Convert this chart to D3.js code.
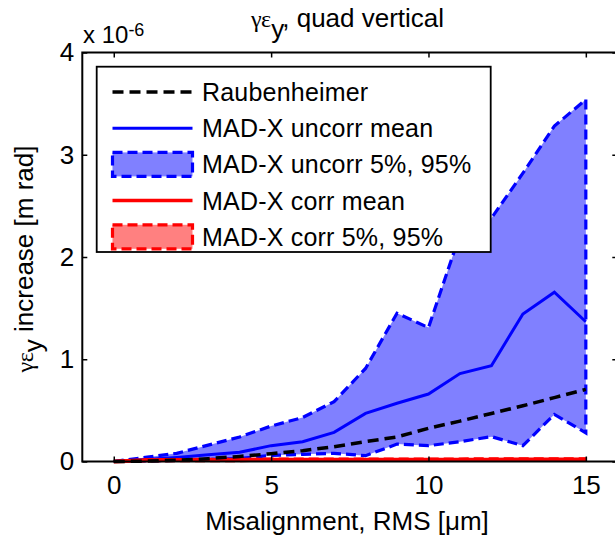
<!DOCTYPE html>
<html><head><meta charset="utf-8">
<script src="https://cdn.jsdelivr.net/npm/d3@7"></script>
<style>
body{margin:0;background:#fff;}
text{font-family:"Liberation Sans",Arial,sans-serif;fill:#000;}
</style></head>
<body>
<svg id="c" width="615" height="538"></svg>
<script>
// ---- data (values in units of 1e-6 m rad) ----
const misalignment = [0,1,2,3,4,5,6,7,8,9,10,11,12,13,14,15];
const raubenheimer = [0,0.003,0.012,0.028,0.05,0.076,0.106,0.145,0.194,0.24,0.325,0.395,0.47,0.545,0.625,0.705];
const uncorrMean   = [0,0.02,0.04,0.065,0.09,0.155,0.194,0.285,0.47,0.57,0.66,0.86,0.937,1.443,1.655,1.367];
const uncorrP95    = [0,0.04,0.08,0.16,0.24,0.347,0.43,0.585,0.91,1.45,1.31,2.22,2.38,2.82,3.28,3.54];
const uncorrP5     = [0,0.005,0.01,0.02,0.03,0.06,0.07,0.08,0.057,0.17,0.155,0.194,0.243,0.155,0.46,0.28];
const corrMean     = [0,0.012,0.014,0.015,0.016,0.016,0.017,0.017,0.017,0.018,0.018,0.018,0.018,0.019,0.019,0.019];
const corrP95      = [0,0.02,0.022,0.024,0.025,0.026,0.026,0.027,0.027,0.028,0.028,0.028,0.029,0.029,0.03,0.03];
const corrP5       = [0,0.004,0.005,0.006,0.006,0.007,0.007,0.008,0.008,0.008,0.008,0.009,0.009,0.009,0.009,0.009];
const xTicks = [0,5,10,15];
const yTicks = [0,1,2,3,4];
const legendLabels = ["Raubenheimer","MAD-X uncorr mean","MAD-X uncorr 5%, 95%","MAD-X corr mean","MAD-X corr 5%, 95%"];

const svg = d3.select("#c");
const L = 82.3, R = 617.3, T = 52.5, B = 461.5;
const x = d3.scaleLinear().domain([-1,16]).range([L,R]);
const y = d3.scaleLinear().domain([0,4]).range([B,T]);

const FS = 26;

function bandPath(lo, hi){
  const pts = misalignment.map((m,i)=>[x(m),y(hi[i])]);
  for(let i=misalignment.length-1;i>=0;i--) pts.push([x(misalignment[i]),y(lo[i])]);
  return "M"+pts.map(p=>p.join(",")).join("L")+"Z";
}
const line = (arr)=> d3.line().x((d,i)=>x(misalignment[i])).y(d=>y(d))(arr);

const plot = svg.append("g");
plot.append("path").attr("d",bandPath(uncorrP5,uncorrP95))
  .attr("fill","#8080ff").attr("stroke","#0000ff").attr("stroke-width",3.2)
  .attr("stroke-dasharray","10,5").attr("stroke-linejoin","miter");
plot.append("path").attr("d",line(uncorrMean)).attr("fill","none")
  .attr("stroke","#0000ff").attr("stroke-width",3);
plot.append("path").attr("d",bandPath(corrP5,corrP95))
  .attr("fill","#ff8080").attr("stroke","#ff0000").attr("stroke-width",2.5)
  .attr("stroke-dasharray","10,5");
plot.append("path").attr("d",line(corrMean)).attr("fill","none")
  .attr("stroke","#ff0000").attr("stroke-width",4);
plot.append("path").attr("d",line(raubenheimer)).attr("fill","none")
  .attr("stroke","#000").attr("stroke-width",3.5).attr("stroke-dasharray","11,6");

// axes
const ax = svg.append("g");
const fmt = d3.format("d");
const xb = d3.axisBottom(x).tickValues(xTicks).tickSizeInner(-5).tickSizeOuter(0).tickPadding(14).tickFormat(fmt);
const xt = d3.axisTop(x).tickValues(xTicks).tickSizeInner(-5).tickSizeOuter(0).tickFormat("");
const yl = d3.axisLeft(y).tickValues(yTicks).tickSizeInner(-5).tickSizeOuter(0).tickPadding(8).tickFormat(fmt);
const yr = d3.axisRight(y).tickValues(yTicks).tickSizeInner(-5).tickSizeOuter(0).tickFormat("");
function style(g){
  g.select(".domain").remove();
  g.selectAll(".tick line").attr("stroke","#000").attr("stroke-width",1.5);
  g.selectAll(".tick text").attr("font-size",FS).attr("font-family","Liberation Sans, Arial, sans-serif").attr("fill","#000");
}
ax.append("g").attr("transform",`translate(0,${B})`).call(xb).call(style);
ax.append("g").attr("transform",`translate(0,${T})`).call(xt).call(style);
ax.append("g").attr("transform",`translate(${L},0)`).call(yl).call(style);
ax.append("g").attr("transform",`translate(${R},0)`).call(yr).call(style);
svg.append("rect").attr("x",L).attr("y",T).attr("width",R-L).attr("height",B-T)
  .attr("fill","none").attr("stroke","#000").attr("stroke-width",2);

// legend
const lg = svg.append("g");
lg.append("rect").attr("x",96.7).attr("y",66.7).attr("width",394).attr("height",185.3)
  .attr("fill","#fff").attr("stroke","#000").attr("stroke-width",1.8);
const rowY = i => 92 + i*36.2;
const lx0 = 112.5, lx1 = 192.5;
lg.append("line").attr("x1",lx0).attr("x2",lx1).attr("y1",rowY(0)).attr("y2",rowY(0))
  .attr("stroke","#000").attr("stroke-width",3.5).attr("stroke-dasharray","11,6");
lg.append("line").attr("x1",lx0).attr("x2",lx1).attr("y1",rowY(1)).attr("y2",rowY(1))
  .attr("stroke","#0000ff").attr("stroke-width",3);
lg.append("rect").attr("x",lx0).attr("y",rowY(2)-12).attr("width",lx1-lx0).attr("height",24)
  .attr("fill","#8080ff").attr("stroke","#0000ff").attr("stroke-width",3.2).attr("stroke-dasharray","10,5");
lg.append("line").attr("x1",lx0).attr("x2",lx1).attr("y1",rowY(3)).attr("y2",rowY(3))
  .attr("stroke","#ff0000").attr("stroke-width",3.5);
lg.append("rect").attr("x",lx0).attr("y",rowY(4)-12).attr("width",lx1-lx0).attr("height",24)
  .attr("fill","#ff8080").attr("stroke","#ff0000").attr("stroke-width",3.2).attr("stroke-dasharray","10,5");
legendLabels.forEach((t,i)=>{
  lg.append("text").attr("x",202).attr("y",rowY(i)+9).attr("font-size",25)
    .attr("letter-spacing","0.2").text(t);
});

// exponent label
const ex = svg.append("text").attr("x",83).attr("y",42.7).attr("font-size",24);
ex.append("tspan").text("x 10");
ex.append("tspan").attr("font-size",18).style("baseline-shift","7px").text("-6");

// title
const ti = svg.append("text").attr("x",347.5).attr("y",27.3).attr("text-anchor","middle").attr("font-size",FS);
ti.append("tspan").attr("font-family","Liberation Serif, DejaVu Serif, serif").attr("font-size",24).text("γε");
ti.append("tspan").style("baseline-shift","-11px").text("y");
ti.append("tspan").text(", quad vertical");

// x label
svg.append("text").attr("x",347).attr("y",530).attr("text-anchor","middle").attr("font-size",FS)
  .text("Misalignment, RMS [μm]");

// y label
const yt = svg.append("text").attr("transform","translate(33,259) rotate(-90)")
  .attr("text-anchor","middle").attr("font-size",FS);
yt.append("tspan").attr("font-family","Liberation Serif, DejaVu Serif, serif").attr("font-size",24).text("γε");
yt.append("tspan").style("baseline-shift","-9px").text("y");
yt.append("tspan").text(" increase [m rad]");
</script>
</body></html>
